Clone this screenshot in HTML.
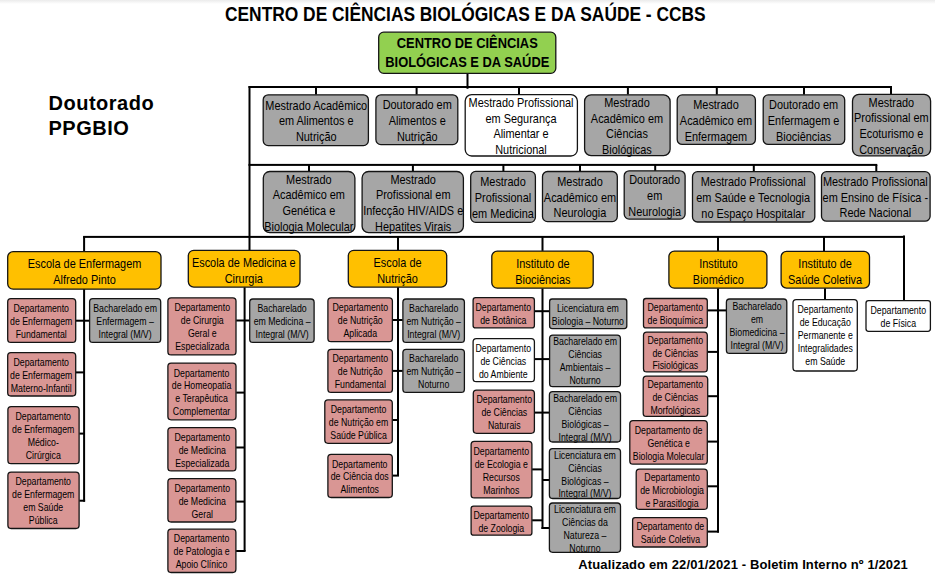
<!DOCTYPE html>
<html><head><meta charset="utf-8"><style>
*{margin:0;padding:0;box-sizing:border-box}
html,body{width:935px;height:579px;overflow:hidden;background:#fff}
body{position:relative;font-family:"Liberation Sans",sans-serif;color:#000}
svg{position:absolute;left:0;top:0}
.b{position:absolute;display:flex;align-items:center;justify-content:center;text-align:center}
.b>div{white-space:nowrap;flex:none}
.t{position:absolute;white-space:nowrap;font-weight:bold}
</style></head><body>
<svg width="935" height="579" viewBox="0 0 935 579">
<defs><linearGradient id="g" x1="0" y1="0" x2="0" y2="1"><stop offset="0" stop-color="#ebebeb"/><stop offset="1" stop-color="#fff"/></linearGradient></defs>
<rect x="0" y="0" width="935" height="4" fill="url(#g)"/>
<g fill="#000">

<rect x="83.1" y="289" width="2" height="212.7"/>
<rect x="75.9" y="319.7" width="13.5" height="2"/>
<rect x="75.9" y="371.4" width="8.8" height="2"/>
<rect x="79.3" y="432.6" width="5.4" height="2"/>
<rect x="79.3" y="499.7" width="5.8" height="2"/>
<rect x="243.6" y="287.3" width="2" height="263.7"/>
<rect x="236.2" y="319.5" width="13.3" height="2"/>
<rect x="236.2" y="391.6" width="8.4" height="2"/>
<rect x="236.1" y="446.5" width="8.5" height="2"/>
<rect x="236.1" y="500.6" width="8.5" height="2"/>
<rect x="236.1" y="550" width="9.5" height="2"/>
<rect x="397" y="287.3" width="2" height="188.3"/>
<rect x="392.6" y="319" width="10.1" height="2"/>
<rect x="392.6" y="369.9" width="10.1" height="2"/>
<rect x="392.5" y="419" width="5.5" height="2"/>
<rect x="392.5" y="474.6" width="6.5" height="2"/>
<rect x="541.5" y="288.4" width="2" height="240.6"/>
<rect x="534.6" y="310.2" width="14.8" height="2"/>
<rect x="534.6" y="358.1" width="14.8" height="2"/>
<rect x="534.6" y="411.6" width="14.6" height="2"/>
<rect x="532.1" y="468.4" width="10.4" height="2"/>
<rect x="542.5" y="479" width="6.7" height="2"/>
<rect x="532.1" y="519.3" width="10.4" height="2"/>
<rect x="541.5" y="527" width="7.7" height="2"/>
<rect x="717" y="288.4" width="2" height="244.2"/>
<rect x="707.5" y="309.4" width="18.7" height="2"/>
<rect x="707.5" y="350.9" width="11.5" height="2"/>
<rect x="707.9" y="395.2" width="11.1" height="2"/>
<rect x="707.5" y="440.6" width="11.5" height="2"/>
<rect x="707.5" y="485.3" width="11.5" height="2"/>
<rect x="707.5" y="530.6" width="11.5" height="2"/>
<rect x="824" y="288.3" width="2" height="11.1"/>
<rect x="466.5" y="74" width="2" height="14.8"/>
<rect x="248.5" y="86" width="643.5" height="2"/>
<rect x="315" y="87" width="2" height="7.6"/>
<rect x="415.6" y="87" width="2" height="7.6"/>
<rect x="518" y="87" width="2" height="7.6"/>
<rect x="626.9" y="87" width="2" height="7.6"/>
<rect x="715.8" y="87" width="2" height="7.6"/>
<rect x="803" y="87" width="2" height="7.6"/>
<rect x="890" y="87" width="2" height="7.6"/>
<rect x="248.5" y="86" width="2" height="164.1"/>
<rect x="248.5" y="163.9" width="628.8" height="2"/>
<rect x="308" y="165" width="2" height="6.3"/>
<rect x="411.9" y="165" width="2" height="6.3"/>
<rect x="502.4" y="165" width="2" height="6.3"/>
<rect x="579" y="165" width="2" height="6.3"/>
<rect x="654.2" y="165" width="2" height="6.3"/>
<rect x="752.8" y="165" width="2" height="6.3"/>
<rect x="875.3" y="165" width="2" height="6.3"/>
<rect x="83.1" y="235.9" width="821.8" height="2"/>
<rect x="83.1" y="236.5" width="2" height="14.9"/>
<rect x="397" y="236.5" width="2" height="13.6"/>
<rect x="541.5" y="236.5" width="2" height="14.4"/>
<rect x="717" y="236.5" width="2" height="14.4"/>
<rect x="823" y="236.5" width="2" height="14.7"/>
<rect x="903" y="235.5" width="2" height="64.9"/>
</g><g stroke="#141414" stroke-width="1.3">
<rect x="378.7" y="32.2" width="177.1" height="41.1" rx="5" fill="#92d050"/>
<rect x="263.2" y="94.8" width="105.2" height="50.8" rx="5" fill="#a6a6a6"/>
<rect x="375.9" y="94.8" width="81.9" height="49.8" rx="5" fill="#a6a6a6"/>
<rect x="465.2" y="94.6" width="112.2" height="61.4" rx="6.5" fill="#ffffff"/>
<rect x="584.6" y="94.8" width="85.5" height="60.9" rx="6.5" fill="#a6a6a6"/>
<rect x="677.2" y="94.9" width="78.2" height="49.5" rx="5" fill="#a6a6a6"/>
<rect x="763.2" y="94.9" width="81.5" height="49.5" rx="5" fill="#a6a6a6"/>
<rect x="852.5" y="94.4" width="78.1" height="61.4" rx="6.5" fill="#a6a6a6"/>
<rect x="263.3" y="171.5" width="91.6" height="61.2" rx="6.5" fill="#a6a6a6"/>
<rect x="362.1" y="171.5" width="101.3" height="61.2" rx="6.5" fill="#a6a6a6"/>
<rect x="470.7" y="171.4" width="64.7" height="50.9" rx="5" fill="#a6a6a6"/>
<rect x="542.5" y="171.5" width="74.8" height="50.1" rx="5" fill="#a6a6a6"/>
<rect x="624.2" y="170.8" width="60.9" height="48.3" rx="5" fill="#a6a6a6"/>
<rect x="692.5" y="171.7" width="122.3" height="50.3" rx="5" fill="#a6a6a6"/>
<rect x="821.5" y="171.7" width="108.6" height="49.5" rx="5" fill="#a6a6a6"/>
<rect x="7.7" y="251.6" width="153.3" height="37.6" rx="5.5" fill="#ffc000"/>
<rect x="188.3" y="250.3" width="111.7" height="36.8" rx="5.5" fill="#ffc000"/>
<rect x="348.3" y="250.3" width="98.4" height="36.8" rx="5.5" fill="#ffc000"/>
<rect x="491.8" y="251.1" width="101.4" height="37.1" rx="5.5" fill="#ffc000"/>
<rect x="668.9" y="251.1" width="98" height="37.1" rx="5.5" fill="#ffc000"/>
<rect x="781.1" y="251.4" width="88.4" height="36.7" rx="5.5" fill="#ffc000"/>
<rect x="7.7" y="298.7" width="68" height="43.7" rx="3.2" fill="#d99694"/>
<rect x="89.6" y="298.7" width="71.1" height="43.7" rx="3.2" fill="#a6a6a6"/>
<rect x="7.7" y="352.7" width="68" height="43.3" rx="3.2" fill="#d99694"/>
<rect x="7.9" y="406.6" width="71.2" height="57.1" rx="3.2" fill="#d99694"/>
<rect x="7.9" y="472.1" width="71.2" height="56.4" rx="3.2" fill="#d99694"/>
<rect x="167.9" y="297.8" width="68.1" height="57.1" rx="3.2" fill="#d99694"/>
<rect x="249.7" y="299" width="64.4" height="43.4" rx="3.2" fill="#a6a6a6"/>
<rect x="167.9" y="363.1" width="68.1" height="56.7" rx="3.2" fill="#d99694"/>
<rect x="167.9" y="427.6" width="68" height="43.3" rx="3.2" fill="#d99694"/>
<rect x="167.9" y="478.7" width="68" height="43.3" rx="3.2" fill="#d99694"/>
<rect x="167.9" y="529.2" width="68" height="43.3" rx="3.2" fill="#d99694"/>
<rect x="327.9" y="297.8" width="64.5" height="43.8" rx="3.2" fill="#d99694"/>
<rect x="402.9" y="299" width="61.5" height="43.4" rx="3.2" fill="#a6a6a6"/>
<rect x="327.9" y="349.3" width="64.5" height="43.1" rx="3.2" fill="#d99694"/>
<rect x="402.9" y="349.3" width="61.5" height="43.1" rx="3.2" fill="#a6a6a6"/>
<rect x="324.8" y="399.9" width="67.5" height="43.4" rx="3.2" fill="#d99694"/>
<rect x="327.9" y="454.4" width="64.4" height="43.1" rx="3.2" fill="#d99694"/>
<rect x="473.1" y="297.7" width="61.3" height="30.2" rx="2.5" fill="#d99694"/>
<rect x="549.6" y="299" width="77.2" height="29.6" rx="2.5" fill="#a6a6a6"/>
<rect x="473.1" y="338.6" width="61.3" height="43.1" rx="3.2" fill="#ffffff"/>
<rect x="549.6" y="335.1" width="70.8" height="51.5" rx="3.2" fill="#a6a6a6"/>
<rect x="473.3" y="390.1" width="61.1" height="43.2" rx="3.2" fill="#d99694"/>
<rect x="549.4" y="391.7" width="71.1" height="50.3" rx="3.2" fill="#a6a6a6"/>
<rect x="471.1" y="441.4" width="60.8" height="56.5" rx="3.2" fill="#d99694"/>
<rect x="549.4" y="448.6" width="71.1" height="49.9" rx="3.2" fill="#a6a6a6"/>
<rect x="471.1" y="506.1" width="60.8" height="29.1" rx="2.5" fill="#d99694"/>
<rect x="549.4" y="503" width="71.1" height="49.3" rx="3.2" fill="#a6a6a6"/>
<rect x="643.5" y="298.5" width="63.8" height="29.4" rx="2.5" fill="#d99694"/>
<rect x="726.4" y="299" width="60.4" height="54.4" rx="3.2" fill="#a6a6a6"/>
<rect x="643.5" y="332.1" width="63.8" height="39.8" rx="3.2" fill="#d99694"/>
<rect x="643.2" y="376.1" width="64.5" height="40.3" rx="3.2" fill="#d99694"/>
<rect x="629.8" y="420.6" width="77.5" height="43.5" rx="3.2" fill="#d99694"/>
<rect x="636.2" y="469.2" width="71.1" height="40.2" rx="3.2" fill="#d99694"/>
<rect x="632.6" y="517.6" width="74.7" height="29.4" rx="2.5" fill="#d99694"/>
<rect x="793" y="299.6" width="64.3" height="71.4" rx="3.2" fill="#ffffff"/>
<rect x="866" y="300.6" width="64.4" height="30.7" rx="2.5" fill="#ffffff"/>
</g></svg>
<div class="b" style="left:378.05px;top:31.55px;width:178.4px;height:42.4px"><div style="font-size:14.8px;line-height:19px;transform:translateY(0.3px) scaleX(0.87);font-weight:bold">CENTRO DE CIÊNCIAS<br>BIOLÓGICAS E DA SAÚDE</div></div>
<div class="b" style="left:262.55px;top:94.15px;width:106.5px;height:52.1px"><div style="font-size:12.7px;line-height:15.7px;transform:translateY(2.1px) scaleX(0.86)">Mestrado Acadêmico<br>em Alimentos e<br>Nutrição</div></div>
<div class="b" style="left:375.25px;top:94.15px;width:83.2px;height:51.1px"><div style="font-size:12.7px;line-height:15.7px;transform:translateY(2.1px) scaleX(0.86)">Doutorado em<br>Alimentos e<br>Nutrição</div></div>
<div class="b" style="left:464.55px;top:93.95px;width:113.5px;height:62.7px"><div style="font-size:12.7px;line-height:15.7px;transform:translateY(2.1px) scaleX(0.86)">Mestrado Profissional<br>em Segurança<br>Alimentar e<br>Nutricional</div></div>
<div class="b" style="left:583.95px;top:94.15px;width:86.8px;height:62.2px"><div style="font-size:12.7px;line-height:15.7px;transform:translateY(2.1px) scaleX(0.86)">Mestrado<br>Acadêmico em<br>Ciências<br>Biológicas</div></div>
<div class="b" style="left:676.55px;top:94.25px;width:79.5px;height:50.8px"><div style="font-size:12.7px;line-height:15.7px;transform:translateY(2.1px) scaleX(0.86)">Mestrado<br>Acadêmico em<br>Enfermagem</div></div>
<div class="b" style="left:762.55px;top:94.25px;width:82.8px;height:50.8px"><div style="font-size:12.7px;line-height:15.7px;transform:translateY(2.1px) scaleX(0.86)">Doutorado em<br>Enfermagem e<br>Biociências</div></div>
<div class="b" style="left:851.85px;top:93.75px;width:79.4px;height:62.7px"><div style="font-size:12.7px;line-height:15.7px;transform:translateY(2.1px) scaleX(0.86)">Mestrado<br>Profissional em<br>Ecoturismo e<br>Conservação</div></div>
<div class="b" style="left:262.65px;top:170.85px;width:92.9px;height:62.5px"><div style="font-size:12.7px;line-height:15.7px;transform:translateY(2.1px) scaleX(0.86)">Mestrado<br>Acadêmico em<br>Genética e<br>Biologia Molecular</div></div>
<div class="b" style="left:361.45px;top:170.85px;width:102.6px;height:62.5px"><div style="font-size:12.7px;line-height:15.7px;transform:translateY(2.1px) scaleX(0.86)">Mestrado<br>Profissional em<br>Infecção HIV/AIDS e<br>Hepatites Virais</div></div>
<div class="b" style="left:470.05px;top:170.75px;width:66px;height:52.2px"><div style="font-size:12.7px;line-height:15.7px;transform:translateY(2.1px) scaleX(0.86)">Mestrado<br>Profissional<br>em Medicina</div></div>
<div class="b" style="left:541.85px;top:170.85px;width:76.1px;height:51.4px"><div style="font-size:12.7px;line-height:15.7px;transform:translateY(2.1px) scaleX(0.86)">Mestrado<br>Acadêmico em<br>Neurologia</div></div>
<div class="b" style="left:623.55px;top:170.15px;width:62.2px;height:49.6px"><div style="font-size:12.7px;line-height:15.7px;transform:translateY(2.1px) scaleX(0.86)">Doutorado<br>em<br>Neurologia</div></div>
<div class="b" style="left:691.85px;top:171.05px;width:123.6px;height:51.6px"><div style="font-size:12.7px;line-height:15.7px;transform:translateY(2.1px) scaleX(0.86)">Mestrado Profissional<br>em Saúde e Tecnologia<br>no Espaço Hospitalar</div></div>
<div class="b" style="left:820.85px;top:171.05px;width:109.9px;height:50.8px"><div style="font-size:12.7px;line-height:15.7px;transform:translateY(2.1px) scaleX(0.86)">Mestrado Profissional<br>em Ensino de Física -<br>Rede Nacional</div></div>
<div class="b" style="left:7.05px;top:250.95px;width:154.6px;height:38.9px"><div style="font-size:13px;line-height:15.9px;transform:translateY(1.5px) scaleX(0.84)">Escola de Enfermagem<br>Alfredo Pinto</div></div>
<div class="b" style="left:187.65px;top:249.65px;width:113px;height:38.1px"><div style="font-size:13px;line-height:15.9px;transform:translateY(1.5px) scaleX(0.84)">Escola de Medicina e<br>Cirurgia</div></div>
<div class="b" style="left:347.65px;top:249.65px;width:99.7px;height:38.1px"><div style="font-size:13px;line-height:15.9px;transform:translateY(1.5px) scaleX(0.84)">Escola de<br>Nutrição</div></div>
<div class="b" style="left:491.15px;top:250.45px;width:102.7px;height:38.4px"><div style="font-size:13px;line-height:15.9px;transform:translateY(1.5px) scaleX(0.84)">Instituto de<br>Biociências</div></div>
<div class="b" style="left:668.25px;top:250.45px;width:99.3px;height:38.4px"><div style="font-size:13px;line-height:15.9px;transform:translateY(1.5px) scaleX(0.84)">Instituto<br>Biomédico</div></div>
<div class="b" style="left:780.45px;top:250.75px;width:89.7px;height:38px"><div style="font-size:13px;line-height:15.9px;transform:translateY(1.5px) scaleX(0.84)">Instituto de<br>Saúde Coletiva</div></div>
<div class="b" style="left:7.05px;top:298.05px;width:69.3px;height:45px"><div style="font-size:10.2px;line-height:12.95px;transform:translateY(1.8px) scaleX(0.86)">Departamento<br>de Enfermagem<br>Fundamental</div></div>
<div class="b" style="left:88.95px;top:298.05px;width:72.4px;height:45px"><div style="font-size:10.2px;line-height:12.95px;transform:translateY(1.8px) scaleX(0.86)">Bacharelado em<br>Enfermagem –<br>Integral (M/V)</div></div>
<div class="b" style="left:7.05px;top:352.05px;width:69.3px;height:44.6px"><div style="font-size:10.2px;line-height:12.95px;transform:translateY(1.8px) scaleX(0.86)">Departamento<br>de Enfermagem<br>Materno-Infantil</div></div>
<div class="b" style="left:7.25px;top:405.95px;width:72.5px;height:58.4px"><div style="font-size:10.2px;line-height:12.95px;transform:translateY(1.8px) scaleX(0.86)">Departamento<br>de Enfermagem<br>Médico-<br>Cirúrgica</div></div>
<div class="b" style="left:7.25px;top:471.45px;width:72.5px;height:57.7px"><div style="font-size:10.2px;line-height:12.95px;transform:translateY(1.8px) scaleX(0.86)">Departamento<br>de Enfermagem<br>em Saúde<br>Pública</div></div>
<div class="b" style="left:167.25px;top:297.15px;width:69.4px;height:58.4px"><div style="font-size:10.2px;line-height:12.95px;transform:translateY(1.8px) scaleX(0.86)">Departamento<br>de Cirurgia<br>Geral e<br>Especializada</div></div>
<div class="b" style="left:249.05px;top:298.35px;width:65.7px;height:44.7px"><div style="font-size:10.2px;line-height:12.95px;transform:translateY(1.8px) scaleX(0.86)">Bacharelado<br>em Medicina –<br>Integral (M/V)</div></div>
<div class="b" style="left:167.25px;top:362.45px;width:69.4px;height:58px"><div style="font-size:10.2px;line-height:12.95px;transform:translateY(1.8px) scaleX(0.86)">Departamento<br>de Homeopatia<br>e Terapêutica<br>Complementar</div></div>
<div class="b" style="left:167.25px;top:426.95px;width:69.3px;height:44.6px"><div style="font-size:10.2px;line-height:12.95px;transform:translateY(1.8px) scaleX(0.86)">Departamento<br>de Medicina<br>Especializada</div></div>
<div class="b" style="left:167.25px;top:478.05px;width:69.3px;height:44.6px"><div style="font-size:10.2px;line-height:12.95px;transform:translateY(1.8px) scaleX(0.86)">Departamento<br>de Medicina<br>Geral</div></div>
<div class="b" style="left:167.25px;top:528.55px;width:69.3px;height:44.6px"><div style="font-size:10.2px;line-height:12.95px;transform:translateY(1.8px) scaleX(0.86)">Departamento<br>de Patologia e<br>Apoio Clínico</div></div>
<div class="b" style="left:327.25px;top:297.15px;width:65.8px;height:45.1px"><div style="font-size:10.2px;line-height:12.95px;transform:translateY(1.8px) scaleX(0.86)">Departamento<br>de Nutrição<br>Aplicada</div></div>
<div class="b" style="left:402.25px;top:298.35px;width:62.8px;height:44.7px"><div style="font-size:10.2px;line-height:12.95px;transform:translateY(1.8px) scaleX(0.86)">Bacharelado<br>em Nutrição –<br>Integral (M/V)</div></div>
<div class="b" style="left:327.25px;top:348.65px;width:65.8px;height:44.4px"><div style="font-size:10.2px;line-height:12.95px;transform:translateY(1.8px) scaleX(0.86)">Departamento<br>de Nutrição<br>Fundamental</div></div>
<div class="b" style="left:402.25px;top:348.65px;width:62.8px;height:44.4px"><div style="font-size:10.2px;line-height:12.95px;transform:translateY(1.8px) scaleX(0.86)">Bacharelado<br>em Nutrição –<br>Noturno</div></div>
<div class="b" style="left:324.15px;top:399.25px;width:68.8px;height:44.7px"><div style="font-size:10.2px;line-height:12.95px;transform:translateY(1.8px) scaleX(0.86)">Departamento<br>de Nutrição em<br>Saúde Pública</div></div>
<div class="b" style="left:327.25px;top:453.75px;width:65.7px;height:44.4px"><div style="font-size:10.2px;line-height:12.95px;transform:translateY(1.8px) scaleX(0.86)">Departamento<br>de Ciência dos<br>Alimentos</div></div>
<div class="b" style="left:472.45px;top:297.05px;width:62.6px;height:31.5px"><div style="font-size:10.2px;line-height:12.95px;transform:translateY(1.8px) scaleX(0.86)">Departamento<br>de Botânica</div></div>
<div class="b" style="left:548.95px;top:298.35px;width:78.5px;height:30.9px"><div style="font-size:10.2px;line-height:12.95px;transform:translateY(1.8px) scaleX(0.86)">Licenciatura em<br>Biologia – Noturno</div></div>
<div class="b" style="left:472.45px;top:337.95px;width:62.6px;height:44.4px"><div style="font-size:10.2px;line-height:12.95px;transform:translateY(1.8px) scaleX(0.86)">Departamento<br>de Ciências<br>do Ambiente</div></div>
<div class="b" style="left:548.95px;top:334.45px;width:72.1px;height:52.8px"><div style="font-size:10.2px;line-height:12.95px;transform:translateY(1px) scaleX(0.86)">Bacharelado em<br>Ciências<br>Ambientais –<br>Noturno</div></div>
<div class="b" style="left:472.65px;top:389.45px;width:62.4px;height:44.5px"><div style="font-size:10.2px;line-height:12.95px;transform:translateY(1.8px) scaleX(0.86)">Departamento<br>de Ciências<br>Naturais</div></div>
<div class="b" style="left:548.75px;top:391.05px;width:72.4px;height:51.6px"><div style="font-size:10.2px;line-height:12.95px;transform:translateY(1.8px) scaleX(0.86)">Bacharelado em<br>Ciências<br>Biológicas –<br>Integral (M/V)</div></div>
<div class="b" style="left:470.45px;top:440.75px;width:62.1px;height:57.8px"><div style="font-size:10.2px;line-height:12.95px;transform:translateY(1.8px) scaleX(0.86)">Departamento<br>de Ecologia e<br>Recursos<br>Marinhos</div></div>
<div class="b" style="left:548.75px;top:447.95px;width:72.4px;height:51.2px"><div style="font-size:10.2px;line-height:12.95px;transform:translateY(1.8px) scaleX(0.86)">Licenciatura em<br>Ciências<br>Biológicas –<br>Integral (M/V)</div></div>
<div class="b" style="left:470.45px;top:505.45px;width:62.1px;height:30.4px"><div style="font-size:10.2px;line-height:12.95px;transform:translateY(1.8px) scaleX(0.86)">Departamento<br>de Zoologia</div></div>
<div class="b" style="left:548.75px;top:502.35px;width:72.4px;height:50.6px"><div style="font-size:10.2px;line-height:12.95px;transform:translateY(1.8px) scaleX(0.86)">Licenciatura em<br>Ciências da<br>Natureza –<br>Noturno</div></div>
<div class="b" style="left:642.85px;top:297.85px;width:65.1px;height:30.7px"><div style="font-size:10.2px;line-height:12.95px;transform:translateY(1.8px) scaleX(0.86)">Departamento<br>de Bioquímica</div></div>
<div class="b" style="left:725.75px;top:298.35px;width:61.7px;height:55.7px"><div style="font-size:10.2px;line-height:12.95px;transform:translateY(1px) scaleX(0.86)">Bacharelado<br>em<br>Biomedicina –<br>Integral (M/V)</div></div>
<div class="b" style="left:642.85px;top:331.45px;width:65.1px;height:41.1px"><div style="font-size:10.2px;line-height:12.95px;transform:translateY(1.8px) scaleX(0.86)">Departamento<br>de Ciências<br>Fisiológicas</div></div>
<div class="b" style="left:642.55px;top:375.45px;width:65.8px;height:41.6px"><div style="font-size:10.2px;line-height:12.95px;transform:translateY(1.8px) scaleX(0.86)">Departamento<br>de Ciências<br>Morfológicas</div></div>
<div class="b" style="left:629.15px;top:419.95px;width:78.8px;height:44.8px"><div style="font-size:10.2px;line-height:12.95px;transform:translateY(1.8px) scaleX(0.86)">Departamento de<br>Genética e<br>Biologia Molecular</div></div>
<div class="b" style="left:635.55px;top:468.55px;width:72.4px;height:41.5px"><div style="font-size:10.2px;line-height:12.95px;transform:translateY(1.8px) scaleX(0.86)">Departamento<br>de Microbiologia<br>e Parasitlogia</div></div>
<div class="b" style="left:631.95px;top:516.95px;width:76px;height:30.7px"><div style="font-size:10.2px;line-height:12.95px;transform:translateY(1.8px) scaleX(0.86)">Departamento de<br>Saúde Coletiva</div></div>
<div class="b" style="left:792.35px;top:298.95px;width:65.6px;height:72.7px"><div style="font-size:10.2px;line-height:12.95px;transform:translateY(1px) scaleX(0.86)">Departamento<br>de Educação<br>Permanente e<br>Integralidades<br>em Saúde</div></div>
<div class="b" style="left:865.35px;top:299.95px;width:65.7px;height:32px"><div style="font-size:10.2px;line-height:12.95px;transform:translateY(1.8px) scaleX(0.86)">Departamento<br>de Física</div></div>
<div class="t" id="title" style="left:225.3px;top:3.3px;font-size:20px;line-height:22px;transform:scaleX(0.868);transform-origin:0 0">CENTRO DE CIÊNCIAS BIOLÓGICAS E DA SAÚDE - CCBS</div>
<div class="t" id="dout" style="left:48.5px;top:91.3px;font-size:20px;line-height:24.5px;letter-spacing:0.5px">Doutorado<br>PPGBIO</div>
<div class="t" id="foot" style="left:578.3px;top:556.6px;font-size:13px;line-height:15px;letter-spacing:0.12px">Atualizado em 22/01/2021 - Boletim Interno nº 1/2021</div>
</body></html>
